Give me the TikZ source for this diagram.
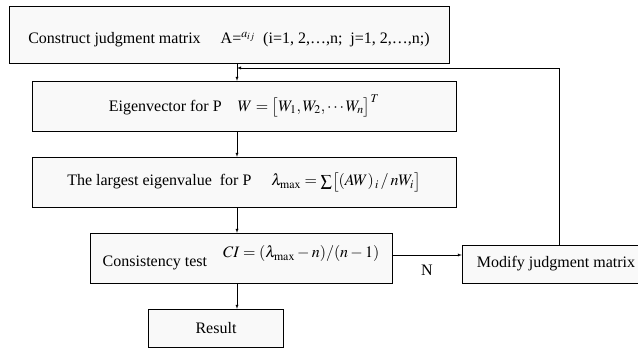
\documentclass[tikz,border=0pt]{standalone}
\usepackage{amsmath}
\usepackage{mathptmx}
\usepackage{fontspec}
\setmainfont{Liberation Serif}
\usetikzlibrary{positioning, arrows}

\begin{document}
\begin{tikzpicture}[x=1pt, y=1pt, >=latex,
        box/.style={draw, fill=gray!5, inner sep=0pt, font=\fontsize{16}{18}\selectfont},
        flow/.style={->, thin}]
        \useasboundingbox (0,0) rectangle (638,351);
        \node[box, minimum width=440pt, minimum height=57pt] (matrix) at (229,316.5)
            {\smash{\raisebox{-9pt}{Construct judgment matrix\quad\ A=$^{a_{ij}}$\ \ (i=1, 2,\dots,n;\ \ j=1, 2,\dots,n;)}}};
        \node[box, minimum width=424pt, minimum height=50pt] (eigvec) at (244,245)
            {Eigenvector for P\quad $W=\bigl[W_1,W_2,\cdots W_n\bigr]^T$};
        \node[box, minimum width=424pt, minimum height=50pt] (eigval) at (244,169)
            {The largest eigenvalue\ \ for P\quad\ $\lambda_{\max}=\sum\bigl[(AW)_{\,i}\,/\,nW_i\bigr]$};
        \node[box, minimum width=302pt, minimum height=50pt] (test) at (241,93)
            {\raisebox{-4pt}{Consistency test}\quad \raisebox{5pt}{$CI=(\lambda_{\max}-n)/(n-1)$}};
        \node[box, minimum width=135pt, minimum height=38pt] (result) at (216,23) {Result};
        \node[box, minimum width=188pt, minimum height=38pt] (modify) at (556,87) {Modify judgment matrix};
        \coordinate (spine) at (237,0);
        \coordinate (back) at (559,283);

        \draw[flow] (matrix.south -| spine) -- (eigvec.north -| spine);
        \draw[flow] (eigvec.south -| spine) -- (eigval.north -| spine);
        \draw[flow] (eigval.south -| spine) -- (test.north -| spine);
        \draw[flow] (test.south -| spine) -- (result.north -| spine);
        \draw[flow] ([yshift=3pt]test.east) -- ([yshift=3pt]test.east -| modify.west)
            node[midway, below=6pt, font=\fontsize{16}{18}\selectfont] (no) {N};
        \draw[flow] (modify.north -| back) -- (back) -- (back -| spine);
\end{tikzpicture}
\end{document}
